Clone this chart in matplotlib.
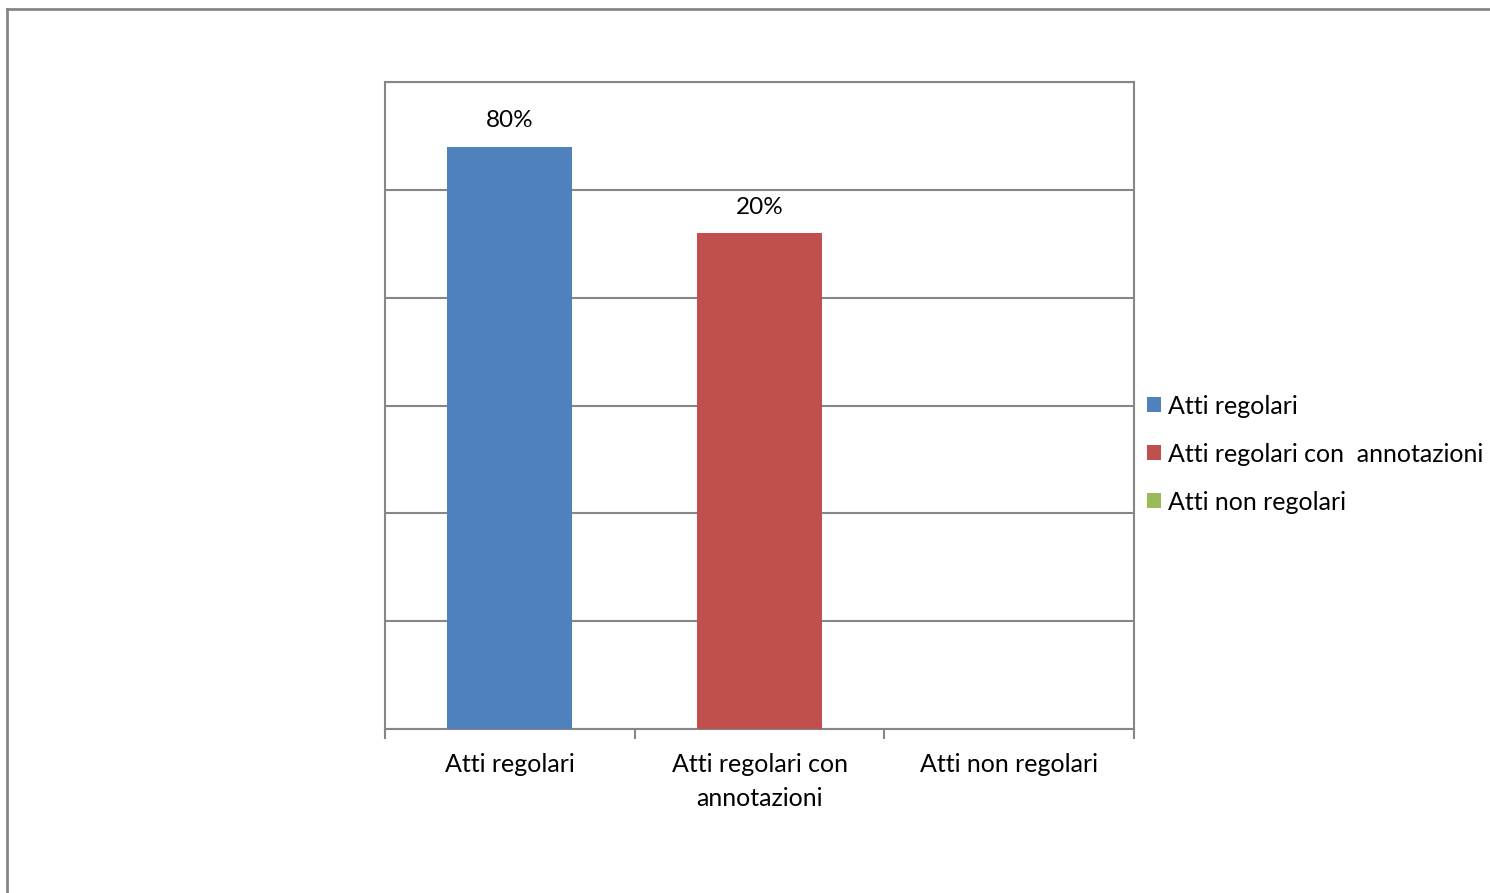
import matplotlib
matplotlib.use("Agg")
import matplotlib.pyplot as plt
from matplotlib.patches import Patch
from matplotlib.lines import Line2D

categories = ["Atti regolari", "Atti regolari con\nannotazioni", "Atti non regolari"]
legend_labels = ["Atti regolari", "Atti regolari con  annotazioni", "Atti non regolari"]
bar_heights = [5.4, 4.6, 0.0]
value_labels = ["80%", "20%", ""]
colors = ["#4F81BD", "#C0504D", "#9BBB59"]

plt.rcParams['font.family'] = ['Lato', 'DejaVu Sans']

fig = plt.figure(figsize=(14.9, 8.93), dpi=100)
ax = fig.add_axes([385/1490, 1-729/893, (1134-385)/1490, (729-82)/893])

x = list(range(len(categories)))
bars = ax.bar(x, bar_heights, width=0.5, color=colors, zorder=3)
for xi, h, lab in zip(x, bar_heights, value_labels):
    if lab:
        ax.annotate(lab, (xi, h), xytext=(0, 11), textcoords="offset points",
                    ha="center", va="bottom", fontsize=17.5, color="black")

ax.set_xlim(-0.5, 2.5)
ax.set_ylim(0, 6)
ax.set_yticks(range(0, 7))
ax.yaxis.grid(True, color="#868686", linewidth=1.5, zorder=0)
ax.tick_params(axis='y', length=0, labelleft=False)
ax.set_xticks(x)
ax.set_xticklabels(categories, fontsize=18, linespacing=1.55)
ax.tick_params(axis='x', length=0, pad=17.5)
ax.set_xticks([-0.5, 0.5, 1.5, 2.5], minor=True)
ax.tick_params(axis='x', which='minor', length=7, width=1.5, color="#868686", direction='out')
for s in ax.spines.values():
    s.set_color("#868686")
    s.set_linewidth(1.5)

handles = [Patch(facecolor=c, edgecolor='none') for c in colors]
fig.legend(handles, legend_labels, loc="center left",
           bbox_to_anchor=(1137/1490, 1-454/893), frameon=False,
           fontsize=18, handlelength=0.55, handleheight=0.55,
           handletextpad=0.3, labelspacing=1.0, borderaxespad=0)

# outer chart border (top and left visible)
fig.add_artist(Line2D([7/1490, 1], [1-9/893, 1-9/893], transform=fig.transFigure,
                      color="#868686", linewidth=2))
fig.add_artist(Line2D([7/1490, 7/1490], [0, 1-9/893], transform=fig.transFigure,
                      color="#868686", linewidth=2))

fig.savefig("out.png", dpi=100, facecolor="white")
